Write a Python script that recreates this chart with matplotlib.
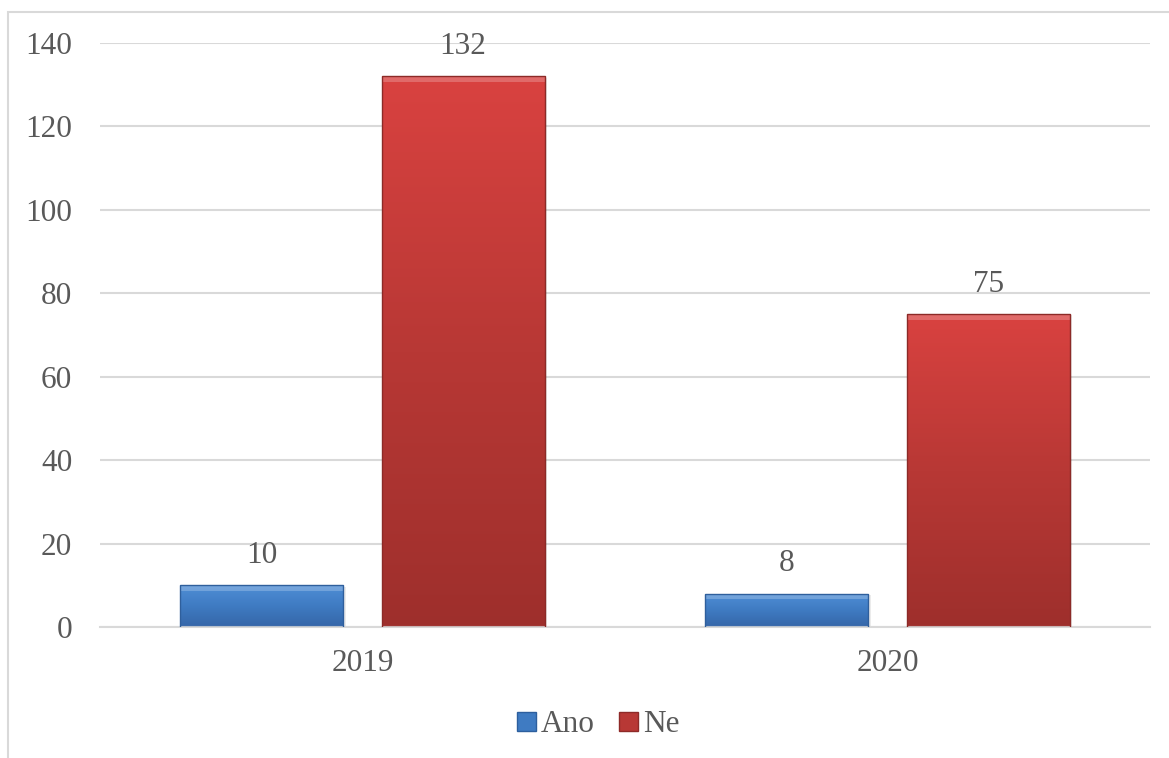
import numpy as np
import matplotlib.pyplot as plt
from matplotlib.patches import Patch, Rectangle
from matplotlib.colors import LinearSegmentedColormap

years = ['2019', '2020']
ano = [10, 8]
ne = [132, 75]
series_names = ['Ano', 'Ne']

plt.rcParams['font.family'] = ['Liberation Serif', 'DejaVu Serif']
text_color = '#595959'
grid_color = '#d9d9d9'

blue_cmap = LinearSegmentedColormap.from_list('blue', ['#3566a8', '#3f7bc2', '#4f8ed6'])
red_cmap = LinearSegmentedColormap.from_list('red', ['#9e2f2c', '#b83835', '#d94240'])

fig = plt.figure(figsize=(11.69, 7.58), dpi=100)
ax = fig.add_axes([100 / 1169, 1 - 627 / 758, 1050 / 1169, 584 / 758])

# outer chart border (clipped at right and bottom like the reference)
fig.patches.append(Rectangle((8 / 1169, -0.05), 1.2, 1 - 12 / 758 + 0.05,
                             transform=fig.transFigure, fill=False,
                             edgecolor=grid_color, linewidth=1.5))

x = np.arange(len(years))
width = 0.311
gap = 0.0725
offset = (width + gap) / 2


def gradient_bars(bars, cmap, edge):
    grad = np.linspace(0, 1, 256).reshape(-1, 1)
    for bar in bars:
        bx, by = bar.get_x(), bar.get_y()
        bw, bh = bar.get_width(), bar.get_height()
        bar.set_facecolor('none')
        bar.set_edgecolor(edge)
        bar.set_linewidth(1)
        bar.set_zorder(4)
        img = ax.imshow(grad, cmap=cmap, origin='lower', aspect='auto',
                        extent=[bx, bx + bw, by, by + bh], zorder=2)
        img.set_clip_path(bar)
        # lighter bevel strip on the top
        ax.add_patch(Rectangle((bx, by + bh - 1.3), bw, 1.3, facecolor='white',
                               alpha=0.22, edgecolor='none', zorder=3))
        # soft shadow
        ax.add_patch(Rectangle((bx + 0.004, by), bw, bh - 0.3, facecolor='#000000',
                               alpha=0.08, edgecolor='none', zorder=1.5))


bars_ano = ax.bar(x - offset, ano, width, zorder=2)
bars_ne = ax.bar(x + offset, ne, width, zorder=2)
gradient_bars(bars_ano, blue_cmap, '#2f5f9c')
gradient_bars(bars_ne, red_cmap, '#8c2a27')

for bars, vals in [(bars_ano, ano), (bars_ne, ne)]:
    for bar, v in zip(bars, vals):
        ax.annotate(str(v), (bar.get_x() + bar.get_width() / 2, v),
                    xytext=(0, 11), textcoords='offset points',
                    ha='center', va='bottom', fontsize=22.5, color=text_color)

ax.set_xlim(-0.5, 1.5)
ax.set_ylim(0, 140)
ax.set_yticks(range(0, 141, 20))
ax.set_xticks(x)
ax.set_xticklabels(years)
ax.tick_params(axis='both', length=0, labelsize=22.5, labelcolor=text_color)
ax.tick_params(axis='y', pad=20)
ax.tick_params(axis='x', pad=16)
ax.grid(axis='y', color=grid_color, linewidth=1.5)
ax.set_axisbelow(True)
for side in ['top', 'right', 'left']:
    ax.spines[side].set_visible(False)
ax.spines['bottom'].set_color(grid_color)
ax.spines['bottom'].set_linewidth(1.5)

handles = [Patch(facecolor='#3f7bc2', edgecolor='#2d5f9e'),
           Patch(facecolor='#b83835', edgecolor='#8e2a28')]
fig.legend(handles, series_names, loc='center', bbox_to_anchor=(598 / 1169, 1 - 725 / 758),
           ncol=2, frameon=False, fontsize=22.5, labelcolor=text_color,
           handlelength=0.6, handleheight=0.6, handletextpad=0.15, columnspacing=0.8)

fig.savefig('out.png', dpi=100)
